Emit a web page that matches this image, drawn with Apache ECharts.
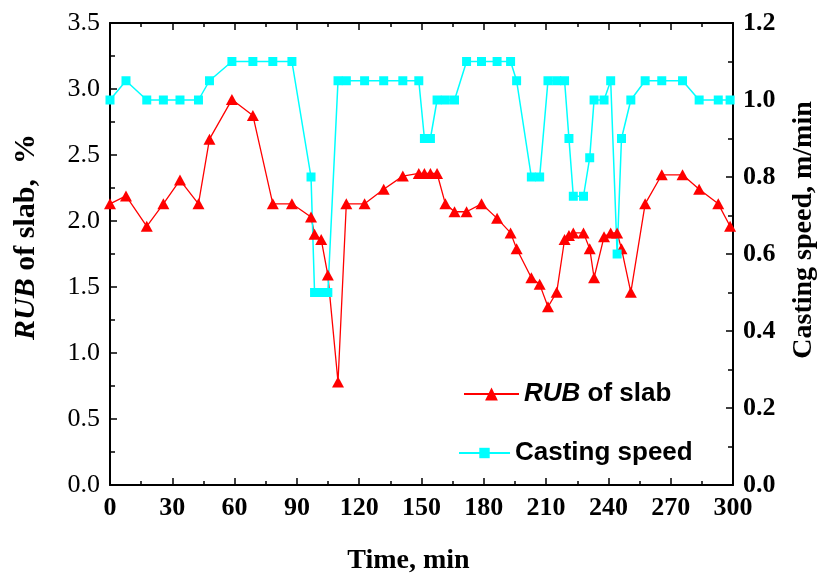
<!DOCTYPE html>
<html>
<head>
<meta charset="utf-8">
<script src="https://cdn.jsdelivr.net/npm/echarts@6/dist/echarts.min.js"></script>
<style>html,body{margin:0;padding:0;background:#fff;}#c{width:817px;height:581px;}</style>
</head>
<body>
<div id="c"></div>
<script>
// Time (min) of each measurement
var times = [0, 7.7, 17.7, 25.7, 33.7, 42.6, 47.9, 58.7, 68.8, 78.4, 87.6, 96.8, 98.5, 101.7, 104.9, 109.8, 113.8, 122.6, 131.8, 141, 148.7, 151.4, 154.3, 157.5, 161.5, 165.9, 171.7, 178.9, 186.4, 192.9, 195.8, 202.9, 206.9, 210.9, 215.1, 218.9, 221, 223.1, 228, 231, 233.1, 237.9, 241.1, 244.2, 246.3, 250.8, 257.7, 265.7, 275.7, 283.7, 292.9, 298.6];
// RUB of slab, %
var rub = [2.13, 2.19, 1.96, 2.13, 2.31, 2.13, 2.62, 2.92, 2.80, 2.13, 2.13, 2.03, 1.90, 1.86, 1.59, 0.78, 2.13, 2.13, 2.24, 2.34, 2.36, 2.36, 2.36, 2.36, 2.13, 2.07, 2.07, 2.13, 2.02, 1.91, 1.79, 1.57, 1.52, 1.35, 1.46, 1.86, 1.89, 1.91, 1.91, 1.79, 1.57, 1.88, 1.91, 1.91, 1.79, 1.46, 2.13, 2.35, 2.35, 2.24, 2.13, 1.96];
// Casting speed, m/min
var speed = [1.0, 1.05, 1.0, 1.0, 1.0, 1.0, 1.05, 1.1, 1.1, 1.1, 1.1, 0.8, 0.5, 0.5, 0.5, 1.05, 1.05, 1.05, 1.05, 1.05, 1.05, 0.9, 0.9, 1.0, 1.0, 1.0, 1.1, 1.1, 1.1, 1.1, 1.05, 0.8, 0.8, 1.05, 1.05, 1.05, 0.9, 0.75, 0.75, 0.85, 1.0, 1.0, 1.05, 0.6, 0.9, 1.0, 1.05, 1.05, 1.05, 1.0, 1.0, 1.0];
var seriesNames = ['RUB of slab', 'Casting speed'];

var rubData = times.map(function (t, i) { return [t, rub[i]]; });
var speedData = times.map(function (t, i) { return [t, speed[i]]; });

var serif = 'Liberation Serif';
var axisLineStyle = { color: '#000', width: 2 };

var chart = echarts.init(document.getElementById('c'));
chart.setOption({
  backgroundColor: '#fff',
  animation: false,
  grid: { left: 110, right: 84, top: 23, bottom: 96, outerBoundsMode: 'none', containLabel: false },
  legend: [
    {
      data: [seriesNames[0]], left: 458, top: 376, itemWidth: 55, itemHeight: 16,
      formatter: function () { return '{i|RUB} of slab'; },
      textStyle: { fontFamily: 'Liberation Sans', fontWeight: 'bold', fontSize: 26, color: '#000',
        rich: { i: { fontFamily: 'Liberation Sans', fontWeight: 'bold', fontStyle: 'italic', fontSize: 26, color: '#000' } } }
    },
    {
      data: [seriesNames[1]], left: 453, top: 435, itemWidth: 51, itemHeight: 13,
      textStyle: { fontFamily: 'Liberation Sans', fontWeight: 'bold', fontSize: 26, color: '#000' }
    }
  ],
  xAxis: [
    {
      type: 'value', min: 0, max: 300, interval: 30, position: 'bottom',
      name: 'Time, min', nameLocation: 'middle', nameGap: 62,
      nameTextStyle: { fontFamily: serif, fontWeight: 'bold', fontSize: 28, color: '#000', padding: [0, 26, 0, 0] },
      axisLine: { show: true, onZero: false, lineStyle: axisLineStyle },
      axisTick: { show: true, inside: true, length: 7, lineStyle: { color: '#000', width: 1.5 } },
      minorTick: { show: true, splitNumber: 2, length: 4, lineStyle: { color: '#000', width: 1.5 } },
      axisLabel: { fontFamily: serif, fontWeight: 'bold', fontSize: 26, color: '#000', margin: 10 },
      splitLine: { show: false }
    },
    {
      type: 'value', min: 0, max: 300, interval: 30, position: 'top',
      axisLine: { show: true, onZero: false, lineStyle: axisLineStyle },
      axisTick: { show: true, inside: true, length: 7, lineStyle: { color: '#000', width: 1.5 } },
      minorTick: { show: true, splitNumber: 2, length: 4, lineStyle: { color: '#000', width: 1.5 } },
      axisLabel: { show: false },
      splitLine: { show: false }
    }
  ],
  yAxis: [
    {
      type: 'value', min: 0, max: 3.5, interval: 0.5, position: 'left',
      name: '{i|RUB} of slab,  %', nameLocation: 'middle', nameGap: 69,
      nameTextStyle: { fontFamily: serif, fontWeight: 'bold', fontSize: 30, color: '#000', padding: [0, 0, 0, 34],
        rich: { i: { fontFamily: serif, fontWeight: 'bold', fontStyle: 'italic', fontSize: 30, color: '#000' } } },
      axisLine: { show: true, onZero: false, lineStyle: axisLineStyle },
      axisTick: { show: true, inside: true, length: 7, lineStyle: { color: '#000', width: 1.5 } },
      minorTick: { show: true, splitNumber: 2, length: 5, lineStyle: { color: '#000', width: 1.5 } },
      axisLabel: { fontFamily: serif, fontSize: 26, color: '#000', margin: 10, formatter: function (v) { return v.toFixed(1); } },
      splitLine: { show: false }
    },
    {
      type: 'value', min: 0, max: 1.2, interval: 0.2, position: 'right',
      name: 'Casting speed, m/min', nameLocation: 'middle', nameGap: 57,
      nameTextStyle: { fontFamily: serif, fontWeight: 'bold', fontSize: 28, color: '#000', padding: [0, 0, 0, 48] },
      axisLine: { show: true, onZero: false, lineStyle: axisLineStyle },
      axisTick: { show: true, inside: true, length: 7, lineStyle: { color: '#000', width: 1.5 } },
      minorTick: { show: true, splitNumber: 2, length: 5, lineStyle: { color: '#000', width: 1.5 } },
      axisLabel: { fontFamily: serif, fontWeight: 'bold', fontSize: 26, color: '#000', margin: 10, formatter: function (v) { return v.toFixed(1); } },
      splitLine: { show: false }
    }
  ],
  series: [
    {
      name: seriesNames[0], type: 'line', xAxisIndex: 0, yAxisIndex: 0, data: rubData,
      symbol: 'triangle', symbolSize: [12, 11], clip: false,
      lineStyle: { color: '#ff0000', width: 1.3 },
      itemStyle: { color: '#ff0000' }
    },
    {
      name: seriesNames[1], type: 'line', xAxisIndex: 0, yAxisIndex: 1, data: speedData,
      symbol: 'rect', symbolSize: 9, clip: false,
      lineStyle: { color: '#00ffff', width: 1.5 },
      itemStyle: { color: '#00ffff' }
    }
  ]
});
</script>
</body>
</html>
